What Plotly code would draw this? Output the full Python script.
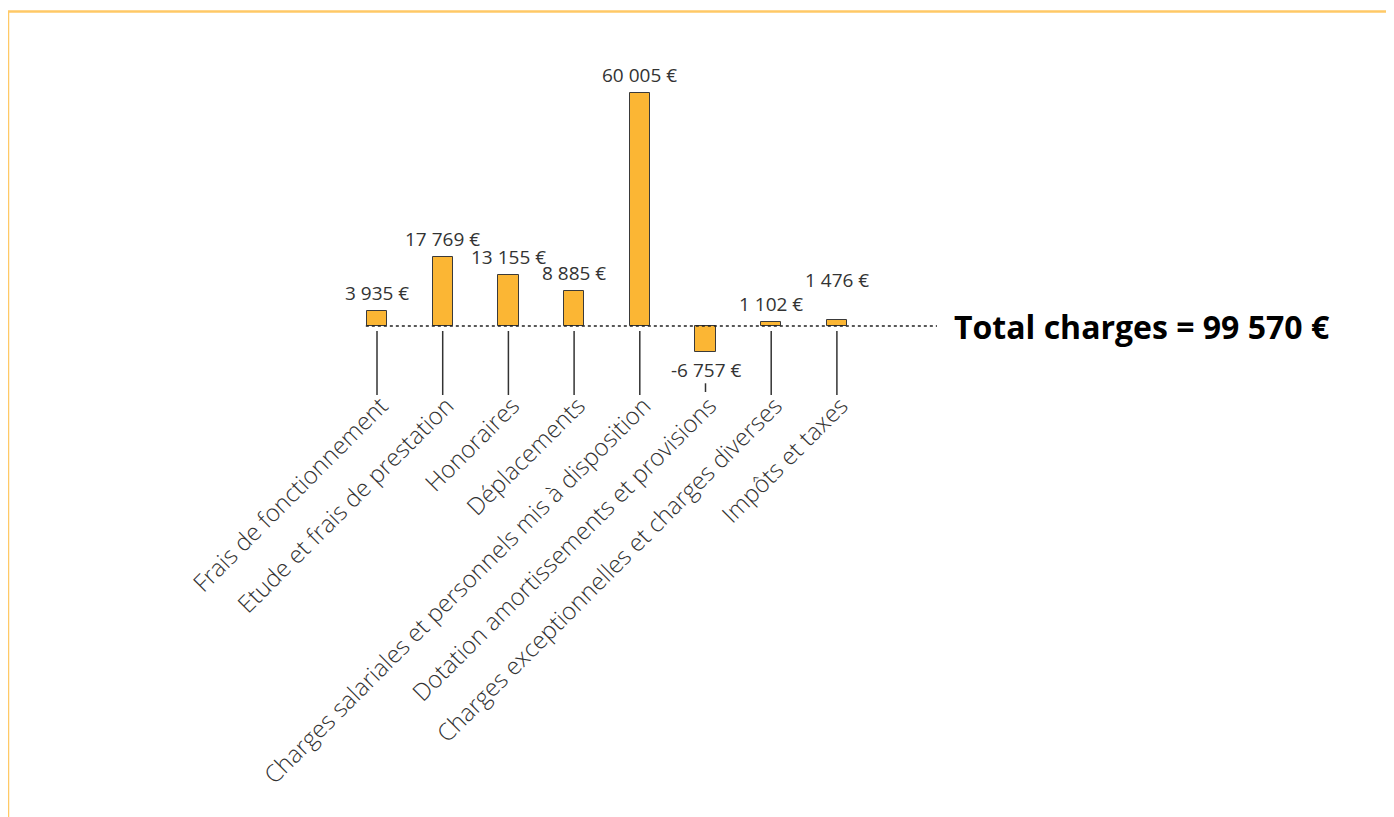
import plotly.graph_objects as go

categories = [
    "Frais de fonctionnement",
    "Etude et frais de prestation",
    "Honoraires",
    "Déplacements",
    "Charges salariales et personnels mis à disposition",
    "Dotation amortissements et provisions",
    "Charges exceptionnelles et charges diverses",
    "Impôts et taxes",
]
values = [3935, 17769, 13155, 8885, 60005, -6757, 1102, 1476]
total_label = "Total charges = 99 570 €"

# label placement style: extra lift (px) to avoid overlapping neighbouring labels
label_lift = [0, 0, 0, 0, 0, 0, 0, 22]

W, H = 1394, 817
OFF = 8.0                          # page body margin
x0_px, dx_px = 377.0 - OFF, 65.7   # centre of first bar, spacing
base_px = 326.0 - OFF              # pixel row of zero line
scale = 3.89 / 1000.0              # pixels per unit
plot_bottom_px = 395.0 - OFF

def fmt(v):
    s = f"{abs(v):,}".replace(",", " ")
    return ("-" if v < 0 else "") + s + " €"

xr = [(0 - x0_px) / dx_px, (W - x0_px) / dx_px]
yr = [-(plot_bottom_px - base_px) / scale, base_px / scale]

def ypx(py):
    return (base_px - py) / scale

xs = list(range(len(categories)))
label_font = dict(family="Open Sans", size=19, color="#333")

fig = go.Figure()
fig.add_trace(go.Bar(
    x=xs, y=values, width=0.31,
    marker=dict(color="#FBB634", line=dict(color="#3a3a3a", width=1)),
    hoverinfo="skip", showlegend=False,
))

shapes = []
annotations = []
for i, v in enumerate(values):
    if v >= 0:
        annotations.append(dict(x=i, y=v, xref="x", yref="y", text=fmt(v),
                                showarrow=False, yanchor="bottom", yshift=3 + label_lift[i],
                                font=label_font))
        top = ypx(base_px + 5)
        bottom = yr[0]
    else:
        annotations.append(dict(x=i, y=v, xref="x", yref="y", text=fmt(v),
                                showarrow=False, yanchor="top", yshift=-3,
                                font=label_font))
        top = ypx(base_px - v * scale + 31)
        bottom = ypx(plot_bottom_px - 3)
    shapes.append(dict(type="line", xref="x", yref="y", x0=i, x1=i, y0=top,
                       y1=bottom, line=dict(color="#333", width=1.5)))

# dotted zero line
shapes.append(dict(type="line", xref="x", yref="y", x0=-0.17, x1=(937 - OFF - x0_px) / dx_px,
                   y0=0, y1=0, line=dict(color="#222", width=1.5, dash="dot")))

# page border (left and top)
plot_h = plot_bottom_px
bx = 8.0 - OFF
by = 11.5 - OFF
shapes.append(dict(type="line", xref="paper", yref="paper",
                   x0=bx / W, x1=bx / W, y0=(plot_h - by) / plot_h, y1=(plot_h - H) / plot_h,
                   line=dict(color="#FFC966", width=2.5)))
shapes.append(dict(type="line", xref="paper", yref="paper",
                   x0=bx / W, x1=1.0, y0=(plot_h - by) / plot_h, y1=(plot_h - by) / plot_h,
                   line=dict(color="#FFC966", width=2.5)))

annotations.append(dict(x=(952 - OFF) / W, y=0, xref="paper", yref="y", text=f"<b>{total_label}</b>",
                        showarrow=False, xanchor="left", yanchor="middle",
                        font=dict(family="Open Sans", size=32, color="#000")))

fig.update_layout(
    width=W, height=H,
    margin=dict(l=0, r=0, t=0, b=H - plot_bottom_px, pad=0),
    plot_bgcolor="white", paper_bgcolor="white",
    shapes=shapes, annotations=annotations,
    xaxis=dict(range=xr, tickvals=xs, ticktext=categories, tickangle=-45,
               showgrid=False, zeroline=False, showline=False, ticks="",
               ticklabelstandoff=-9, ticklabelshift=4,
               tickfont=dict(family="Open Sans", size=24, color="#333", weight=300),
               automargin=False, fixedrange=True),
    yaxis=dict(range=yr, showgrid=False, zeroline=False, showline=False,
               showticklabels=False, ticks="", automargin=False, fixedrange=True),
    bargap=0,
)

fig.write_html("out.html")
